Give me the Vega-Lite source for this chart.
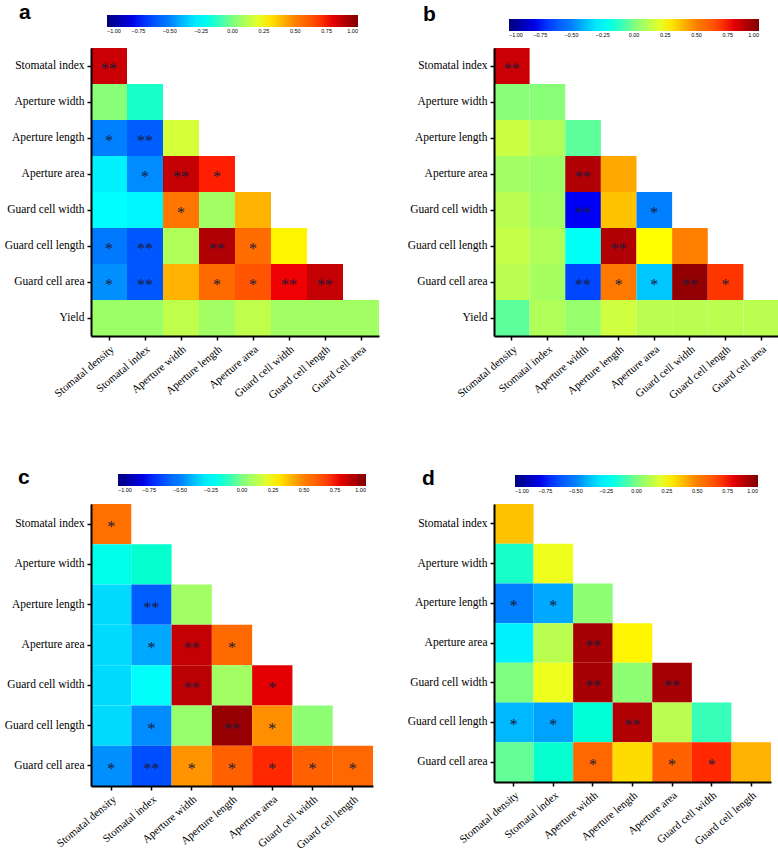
{
  "$schema": "https://vega.github.io/schema/vega-lite/v6.json",
  "background": "white",
  "padding": {"left": 4, "top": 2, "right": 5, "bottom": 0},
  "config": {
    "view": {"stroke": null},
    "axis": {"grid": false, "domainColor": "black", "domainWidth": 2, "tickColor": "black", "tickSize": 4, "tickWidth": 1.5, "labelColor": "black", "labelFont": "Liberation Serif, Times New Roman, serif", "labelFontSize": 11.5, "title": null, "labelPadding": 3},
    "axisX": {"labelFontSize": 11},
    "legend": {"orient": "none", "direction": "horizontal", "gradientThickness": 12, "gradientStrokeWidth": 0, "labelFontSize": 5.5, "labelFont": "Liberation Sans", "labelColor": "black", "labelOffset": 7, "labelOverlap": false, "title": null},
    "title": {"anchor": "start", "frame": "group", "font": "Liberation Sans", "fontSize": 21, "fontWeight": "bold", "color": "black"}
  },
  "resolve": {"scale": {"color": "independent"}, "legend": {"color": "independent"}},
  "bounds": "flush",
  "columns": 2,
  "spacing": {"column": 115, "row": 168},
  "datasets": {
    "d": [
      {"p":"a","r":"Stomatal index","c":"Stomatal density","v":0.85,"s":"**"},
      {"p":"a","r":"Aperture width","c":"Stomatal density","v":0.02,"s":""},
      {"p":"a","r":"Aperture width","c":"Stomatal index","v":-0.13,"s":""},
      {"p":"a","r":"Aperture length","c":"Stomatal density","v":-0.5,"s":"*"},
      {"p":"a","r":"Aperture length","c":"Stomatal index","v":-0.6,"s":"**"},
      {"p":"a","r":"Aperture length","c":"Aperture width","v":0.17,"s":""},
      {"p":"a","r":"Aperture area","c":"Stomatal density","v":-0.28,"s":""},
      {"p":"a","r":"Aperture area","c":"Stomatal index","v":-0.48,"s":"*"},
      {"p":"a","r":"Aperture area","c":"Aperture width","v":0.86,"s":"**"},
      {"p":"a","r":"Aperture area","c":"Aperture length","v":0.73,"s":"*"},
      {"p":"a","r":"Guard cell width","c":"Stomatal density","v":-0.25,"s":""},
      {"p":"a","r":"Guard cell width","c":"Stomatal index","v":-0.27,"s":""},
      {"p":"a","r":"Guard cell width","c":"Aperture width","v":0.53,"s":"*"},
      {"p":"a","r":"Guard cell width","c":"Aperture length","v":0.07,"s":""},
      {"p":"a","r":"Guard cell width","c":"Aperture area","v":0.4,"s":""},
      {"p":"a","r":"Guard cell length","c":"Stomatal density","v":-0.52,"s":"*"},
      {"p":"a","r":"Guard cell length","c":"Stomatal index","v":-0.62,"s":"**"},
      {"p":"a","r":"Guard cell length","c":"Aperture width","v":0.1,"s":""},
      {"p":"a","r":"Guard cell length","c":"Aperture length","v":0.9,"s":"**"},
      {"p":"a","r":"Guard cell length","c":"Aperture area","v":0.56,"s":"*"},
      {"p":"a","r":"Guard cell length","c":"Guard cell width","v":0.27,"s":""},
      {"p":"a","r":"Guard cell area","c":"Stomatal density","v":-0.47,"s":"*"},
      {"p":"a","r":"Guard cell area","c":"Stomatal index","v":-0.62,"s":"**"},
      {"p":"a","r":"Guard cell area","c":"Aperture width","v":0.4,"s":""},
      {"p":"a","r":"Guard cell area","c":"Aperture length","v":0.57,"s":"*"},
      {"p":"a","r":"Guard cell area","c":"Aperture area","v":0.63,"s":"*"},
      {"p":"a","r":"Guard cell area","c":"Guard cell width","v":0.78,"s":"**"},
      {"p":"a","r":"Guard cell area","c":"Guard cell length","v":0.86,"s":"**"},
      {"p":"a","r":"Yield","c":"Stomatal density","v":0.06,"s":""},
      {"p":"a","r":"Yield","c":"Stomatal index","v":0.06,"s":""},
      {"p":"a","r":"Yield","c":"Aperture width","v":0.13,"s":""},
      {"p":"a","r":"Yield","c":"Aperture length","v":0.07,"s":""},
      {"p":"a","r":"Yield","c":"Aperture area","v":0.13,"s":""},
      {"p":"a","r":"Yield","c":"Guard cell width","v":0.07,"s":""},
      {"p":"a","r":"Yield","c":"Guard cell length","v":0.07,"s":""},
      {"p":"a","r":"Yield","c":"Guard cell area","v":0.07,"s":""},

      {"p":"b","r":"Stomatal index","c":"Stomatal density","v":0.85,"s":"**"},
      {"p":"b","r":"Aperture width","c":"Stomatal density","v":0.02,"s":""},
      {"p":"b","r":"Aperture width","c":"Stomatal index","v":0.02,"s":""},
      {"p":"b","r":"Aperture length","c":"Stomatal density","v":0.15,"s":""},
      {"p":"b","r":"Aperture length","c":"Stomatal index","v":0.1,"s":""},
      {"p":"b","r":"Aperture length","c":"Aperture width","v":-0.05,"s":""},
      {"p":"b","r":"Aperture area","c":"Stomatal density","v":0.07,"s":""},
      {"p":"b","r":"Aperture area","c":"Stomatal index","v":0.06,"s":""},
      {"p":"b","r":"Aperture area","c":"Aperture width","v":0.9,"s":"**"},
      {"p":"b","r":"Aperture area","c":"Aperture length","v":0.42,"s":""},
      {"p":"b","r":"Guard cell width","c":"Stomatal density","v":0.12,"s":""},
      {"p":"b","r":"Guard cell width","c":"Stomatal index","v":0.07,"s":""},
      {"p":"b","r":"Guard cell width","c":"Aperture width","v":-0.77,"s":"**"},
      {"p":"b","r":"Guard cell width","c":"Aperture length","v":0.37,"s":""},
      {"p":"b","r":"Guard cell width","c":"Aperture area","v":-0.5,"s":"*"},
      {"p":"b","r":"Guard cell length","c":"Stomatal density","v":0.14,"s":""},
      {"p":"b","r":"Guard cell length","c":"Stomatal index","v":0.1,"s":""},
      {"p":"b","r":"Guard cell length","c":"Aperture width","v":-0.22,"s":""},
      {"p":"b","r":"Guard cell length","c":"Aperture length","v":0.9,"s":"**"},
      {"p":"b","r":"Guard cell length","c":"Aperture area","v":0.25,"s":""},
      {"p":"b","r":"Guard cell length","c":"Guard cell width","v":0.5,"s":""},
      {"p":"b","r":"Guard cell area","c":"Stomatal density","v":0.12,"s":""},
      {"p":"b","r":"Guard cell area","c":"Stomatal index","v":0.08,"s":""},
      {"p":"b","r":"Guard cell area","c":"Aperture width","v":-0.66,"s":"**"},
      {"p":"b","r":"Guard cell area","c":"Aperture length","v":0.52,"s":"*"},
      {"p":"b","r":"Guard cell area","c":"Aperture area","v":-0.37,"s":"*"},
      {"p":"b","r":"Guard cell area","c":"Guard cell width","v":0.96,"s":"**"},
      {"p":"b","r":"Guard cell area","c":"Guard cell length","v":0.7,"s":"*"},
      {"p":"b","r":"Yield","c":"Stomatal density","v":-0.05,"s":""},
      {"p":"b","r":"Yield","c":"Stomatal index","v":0.1,"s":""},
      {"p":"b","r":"Yield","c":"Aperture width","v":0.05,"s":""},
      {"p":"b","r":"Yield","c":"Aperture length","v":0.16,"s":""},
      {"p":"b","r":"Yield","c":"Aperture area","v":0.12,"s":""},
      {"p":"b","r":"Yield","c":"Guard cell width","v":0.12,"s":""},
      {"p":"b","r":"Yield","c":"Guard cell length","v":0.12,"s":""},
      {"p":"b","r":"Yield","c":"Guard cell area","v":0.12,"s":""},

      {"p":"c","r":"Stomatal index","c":"Stomatal density","v":0.55,"s":"*"},
      {"p":"c","r":"Aperture width","c":"Stomatal density","v":-0.2,"s":""},
      {"p":"c","r":"Aperture width","c":"Stomatal index","v":-0.14,"s":""},
      {"p":"c","r":"Aperture length","c":"Stomatal density","v":-0.33,"s":""},
      {"p":"c","r":"Aperture length","c":"Stomatal index","v":-0.6,"s":"**"},
      {"p":"c","r":"Aperture length","c":"Aperture width","v":0.07,"s":""},
      {"p":"c","r":"Aperture area","c":"Stomatal density","v":-0.33,"s":""},
      {"p":"c","r":"Aperture area","c":"Stomatal index","v":-0.43,"s":"*"},
      {"p":"c","r":"Aperture area","c":"Aperture width","v":0.86,"s":"**"},
      {"p":"c","r":"Aperture area","c":"Aperture length","v":0.57,"s":"*"},
      {"p":"c","r":"Guard cell width","c":"Stomatal density","v":-0.33,"s":""},
      {"p":"c","r":"Guard cell width","c":"Stomatal index","v":-0.24,"s":""},
      {"p":"c","r":"Guard cell width","c":"Aperture width","v":0.88,"s":"**"},
      {"p":"c","r":"Guard cell width","c":"Aperture length","v":0.07,"s":""},
      {"p":"c","r":"Guard cell width","c":"Aperture area","v":0.8,"s":"*"},
      {"p":"c","r":"Guard cell length","c":"Stomatal density","v":-0.33,"s":""},
      {"p":"c","r":"Guard cell length","c":"Stomatal index","v":-0.48,"s":"*"},
      {"p":"c","r":"Guard cell length","c":"Aperture width","v":0.05,"s":""},
      {"p":"c","r":"Guard cell length","c":"Aperture length","v":0.95,"s":"**"},
      {"p":"c","r":"Guard cell length","c":"Aperture area","v":0.47,"s":"*"},
      {"p":"c","r":"Guard cell length","c":"Guard cell width","v":0.03,"s":""},
      {"p":"c","r":"Guard cell area","c":"Stomatal density","v":-0.47,"s":"*"},
      {"p":"c","r":"Guard cell area","c":"Stomatal index","v":-0.64,"s":"**"},
      {"p":"c","r":"Guard cell area","c":"Aperture width","v":0.46,"s":"*"},
      {"p":"c","r":"Guard cell area","c":"Aperture length","v":0.6,"s":"*"},
      {"p":"c","r":"Guard cell area","c":"Aperture area","v":0.72,"s":"*"},
      {"p":"c","r":"Guard cell area","c":"Guard cell width","v":0.6,"s":"*"},
      {"p":"c","r":"Guard cell area","c":"Guard cell length","v":0.58,"s":"*"},

      {"p":"d","r":"Stomatal index","c":"Stomatal density","v":0.37,"s":""},
      {"p":"d","r":"Aperture width","c":"Stomatal density","v":-0.13,"s":""},
      {"p":"d","r":"Aperture width","c":"Stomatal index","v":0.22,"s":""},
      {"p":"d","r":"Aperture length","c":"Stomatal density","v":-0.5,"s":"*"},
      {"p":"d","r":"Aperture length","c":"Stomatal index","v":-0.43,"s":"*"},
      {"p":"d","r":"Aperture length","c":"Aperture width","v":0.03,"s":""},
      {"p":"d","r":"Aperture area","c":"Stomatal density","v":-0.28,"s":""},
      {"p":"d","r":"Aperture area","c":"Stomatal index","v":0.12,"s":""},
      {"p":"d","r":"Aperture area","c":"Aperture width","v":0.92,"s":"**"},
      {"p":"d","r":"Aperture area","c":"Aperture length","v":0.27,"s":""},
      {"p":"d","r":"Guard cell width","c":"Stomatal density","v":0.0,"s":""},
      {"p":"d","r":"Guard cell width","c":"Stomatal index","v":0.22,"s":""},
      {"p":"d","r":"Guard cell width","c":"Aperture width","v":0.92,"s":"**"},
      {"p":"d","r":"Guard cell width","c":"Aperture length","v":0.03,"s":""},
      {"p":"d","r":"Guard cell width","c":"Aperture area","v":0.92,"s":"**"},
      {"p":"d","r":"Guard cell length","c":"Stomatal density","v":-0.4,"s":"*"},
      {"p":"d","r":"Guard cell length","c":"Stomatal index","v":-0.44,"s":"*"},
      {"p":"d","r":"Guard cell length","c":"Aperture width","v":-0.15,"s":""},
      {"p":"d","r":"Guard cell length","c":"Aperture length","v":0.9,"s":"**"},
      {"p":"d","r":"Guard cell length","c":"Aperture area","v":0.12,"s":""},
      {"p":"d","r":"Guard cell length","c":"Guard cell width","v":-0.1,"s":""},
      {"p":"d","r":"Guard cell area","c":"Stomatal density","v":-0.04,"s":""},
      {"p":"d","r":"Guard cell area","c":"Stomatal index","v":-0.14,"s":""},
      {"p":"d","r":"Guard cell area","c":"Aperture width","v":0.58,"s":"*"},
      {"p":"d","r":"Guard cell area","c":"Aperture length","v":0.32,"s":""},
      {"p":"d","r":"Guard cell area","c":"Aperture area","v":0.6,"s":"*"},
      {"p":"d","r":"Guard cell area","c":"Guard cell width","v":0.72,"s":"*"},
      {"p":"d","r":"Guard cell area","c":"Guard cell length","v":0.4,"s":""}
    ]
  },
  "data": {"name": "d"},
  "concat": [
    {
      "width": 288, "height": 288,
      "title": {"text": "a", "dx": -72, "offset": 18, "dy": 26},
      "transform": [{"filter": "datum.p == 'a'"}],
      "encoding": {
        "x": {"field": "c", "type": "nominal", "scale": {"domain": ["Stomatal density","Stomatal index","Aperture width","Aperture length","Aperture area","Guard cell width","Guard cell length","Guard cell area"], "paddingInner": 0, "paddingOuter": 0}, "axis": {"labelAngle": -40, "labelFont": "Liberation Serif, Times New Roman, serif"}},
        "y": {"field": "r", "type": "nominal", "scale": {"domain": ["Stomatal index","Aperture width","Aperture length","Aperture area","Guard cell width","Guard cell length","Guard cell area","Yield"], "paddingInner": 0, "paddingOuter": 0}, "axis": {"labelFont": "Liberation Serif, Times New Roman, serif"}}
      },
      "layer": [
        {"mark": {"type": "rect"}, "encoding": {"color": {"field": "v", "type": "quantitative", "scale": {"type": "linear", "domain": [-1,-0.75,-0.5,-0.25,0,0.25,0.5,0.75,1], "range": ["#00007f","#0000ff","#007fff","#00ffff","#7fff7f","#ffff00","#ff7f00","#ff0000","#7f0000"]}, "legend": {"legendX": 16, "legendY": -33, "gradientLength": 251, "values": [-1, -0.75, -0.5, -0.25, 0, 0.25, 0.5, 0.75, 1], "format": ".2f", "labelOverlap": false}}}},
        {"mark": {"type": "text", "font": "Liberation Serif, Times New Roman, serif", "fontSize": 16, "color": "#1b1b3a", "baseline": "middle", "dy": 3}, "encoding": {"text": {"field": "s"}}}
      ]
    },
    {
      "width": 285, "height": 288,
      "title": {"text": "b", "dx": -71, "offset": 18, "dy": 24},
      "transform": [{"filter": "datum.p == 'b'"}],
      "encoding": {
        "x": {"field": "c", "type": "nominal", "scale": {"domain": ["Stomatal density","Stomatal index","Aperture width","Aperture length","Aperture area","Guard cell width","Guard cell length","Guard cell area"], "paddingInner": 0, "paddingOuter": 0}, "axis": {"labelAngle": -40, "labelFont": "Liberation Serif, Times New Roman, serif"}},
        "y": {"field": "r", "type": "nominal", "scale": {"domain": ["Stomatal index","Aperture width","Aperture length","Aperture area","Guard cell width","Guard cell length","Guard cell area","Yield"], "paddingInner": 0, "paddingOuter": 0}, "axis": {"labelFont": "Liberation Serif, Times New Roman, serif"}}
      },
      "layer": [
        {"mark": {"type": "rect"}, "encoding": {"color": {"field": "v", "type": "quantitative", "scale": {"type": "linear", "domain": [-1,-0.75,-0.5,-0.25,0,0.25,0.5,0.75,1], "range": ["#00007f","#0000ff","#007fff","#00ffff","#7fff7f","#ffff00","#ff7f00","#ff0000","#7f0000"]}, "legend": {"legendX": 15, "legendY": -29, "gradientLength": 250, "values": [-1, -0.75, -0.5, -0.25, 0, 0.25, 0.5, 0.75, 1], "format": ".2f", "labelOverlap": false}}}},
        {"mark": {"type": "text", "font": "Liberation Serif, Times New Roman, serif", "fontSize": 16, "color": "#1b1b3a", "baseline": "middle", "dy": 3}, "encoding": {"text": {"field": "s"}}}
      ]
    },
    {
      "width": 282, "height": 282,
      "title": {"text": "c", "dx": -73, "offset": 18, "dy": 32},
      "transform": [{"filter": "datum.p == 'c'"}],
      "encoding": {
        "x": {"field": "c", "type": "nominal", "scale": {"domain": ["Stomatal density","Stomatal index","Aperture width","Aperture length","Aperture area","Guard cell width","Guard cell length"], "paddingInner": 0, "paddingOuter": 0}, "axis": {"labelAngle": -40, "labelFont": "Liberation Serif, Times New Roman, serif"}},
        "y": {"field": "r", "type": "nominal", "scale": {"domain": ["Stomatal index","Aperture width","Aperture length","Aperture area","Guard cell width","Guard cell length","Guard cell area"], "paddingInner": 0, "paddingOuter": 0}, "axis": {"labelFont": "Liberation Serif, Times New Roman, serif"}}
      },
      "layer": [
        {"mark": {"type": "rect"}, "encoding": {"color": {"field": "v", "type": "quantitative", "scale": {"type": "linear", "domain": [-1,-0.75,-0.5,-0.25,0,0.25,0.5,0.75,1], "range": ["#00007f","#0000ff","#007fff","#00ffff","#7fff7f","#ffff00","#ff7f00","#ff0000","#7f0000"]}, "legend": {"legendX": 27, "legendY": -30, "gradientLength": 248, "values": [-1, -0.75, -0.5, -0.25, 0, 0.25, 0.5, 0.75, 1], "format": ".2f", "labelOverlap": false}}}},
        {"mark": {"type": "text", "font": "Liberation Serif, Times New Roman, serif", "fontSize": 16, "color": "#1b1b3a", "baseline": "middle", "dy": 3}, "encoding": {"text": {"field": "s"}}}
      ]
    },
    {
      "width": 277, "height": 278,
      "title": {"text": "d", "dx": -72, "offset": 18, "dy": 32},
      "transform": [{"filter": "datum.p == 'd'"}],
      "encoding": {
        "x": {"field": "c", "type": "nominal", "scale": {"domain": ["Stomatal density","Stomatal index","Aperture width","Aperture length","Aperture area","Guard cell width","Guard cell length"], "paddingInner": 0, "paddingOuter": 0}, "axis": {"labelAngle": -40, "labelFont": "Liberation Serif, Times New Roman, serif"}},
        "y": {"field": "r", "type": "nominal", "scale": {"domain": ["Stomatal index","Aperture width","Aperture length","Aperture area","Guard cell width","Guard cell length","Guard cell area"], "paddingInner": 0, "paddingOuter": 0}, "axis": {"labelFont": "Liberation Serif, Times New Roman, serif"}}
      },
      "layer": [
        {"mark": {"type": "rect"}, "encoding": {"color": {"field": "v", "type": "quantitative", "scale": {"type": "linear", "domain": [-1,-0.75,-0.5,-0.25,0,0.25,0.5,0.75,1], "range": ["#00007f","#0000ff","#007fff","#00ffff","#7fff7f","#ffff00","#ff7f00","#ff0000","#7f0000"]}, "legend": {"legendX": 21, "legendY": -29, "gradientLength": 243, "values": [-1, -0.75, -0.5, -0.25, 0, 0.25, 0.5, 0.75, 1], "format": ".2f", "labelOverlap": false}}}},
        {"mark": {"type": "text", "font": "Liberation Serif, Times New Roman, serif", "fontSize": 16, "color": "#1b1b3a", "baseline": "middle", "dy": 3}, "encoding": {"text": {"field": "s"}}}
      ]
    }
  ]
}
